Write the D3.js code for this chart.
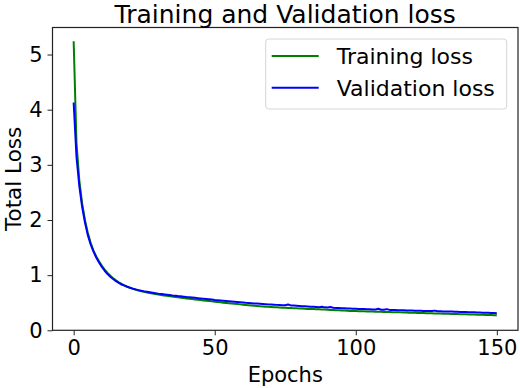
<!DOCTYPE html>
<html>
<head>
<meta charset="utf-8">
<script src="https://cdn.jsdelivr.net/npm/d3@7"></script>
<style>
    body { margin: 0; background: #fff; }
    text { font-family: "DejaVu Sans", sans-serif; fill: #000; }
    .tick line { stroke: #222; }
    .domain { display: none; }
</style>
</head>
<body>
<div id="chart"></div>
<script>
// Loss per epoch (epoch 0 .. 150)
const trainingLoss = [
    5.24, 3.40, 2.72, 2.30, 2.00, 1.77, 1.59, 1.45, 1.34, 1.25,
    1.17, 1.10, 1.04, 0.99, 0.945, 0.905, 0.87, 0.84, 0.815, 0.79,
    0.77, 0.752, 0.736, 0.722, 0.709, 0.697, 0.686, 0.676, 0.666, 0.657,
    0.649, 0.641, 0.633, 0.626, 0.619, 0.612, 0.605, 0.598, 0.592, 0.586,
    0.578, 0.572, 0.566, 0.560, 0.554, 0.548, 0.542, 0.537, 0.531, 0.525,
    0.519, 0.513, 0.507, 0.501, 0.495, 0.490, 0.485, 0.480, 0.475, 0.470,
    0.465, 0.460, 0.455, 0.450, 0.445, 0.441, 0.437, 0.433, 0.429, 0.425,
    0.422, 0.419, 0.416, 0.413, 0.410, 0.408, 0.406, 0.404, 0.402, 0.400,
    0.397, 0.394, 0.391, 0.388, 0.386, 0.384, 0.382, 0.380, 0.378, 0.375,
    0.372, 0.370, 0.367, 0.365, 0.362, 0.360, 0.357, 0.355, 0.352, 0.350,
    0.348, 0.347, 0.345, 0.344, 0.342, 0.341, 0.340, 0.338, 0.337, 0.335,
    0.334, 0.332, 0.331, 0.329, 0.328, 0.326, 0.325, 0.323, 0.322, 0.320,
    0.318, 0.317, 0.315, 0.314, 0.312, 0.311, 0.309, 0.308, 0.306, 0.305,
    0.303, 0.302, 0.300, 0.299, 0.297, 0.296, 0.294, 0.293, 0.291, 0.290,
    0.288, 0.287, 0.285, 0.284, 0.282, 0.281, 0.279, 0.278, 0.276, 0.275,
    0.274
];

const validationLoss = [
    4.13, 3.15, 2.62, 2.24, 1.96, 1.73, 1.56, 1.43, 1.32, 1.23,
    1.15, 1.08, 1.02, 0.97, 0.93, 0.89, 0.86, 0.83, 0.81, 0.79,
    0.772, 0.755, 0.742, 0.728, 0.716, 0.706, 0.697, 0.688, 0.680, 0.672,
    0.665, 0.660, 0.652, 0.646, 0.640, 0.633, 0.628, 0.621, 0.616, 0.610,
    0.604, 0.600, 0.594, 0.589, 0.583, 0.578, 0.574, 0.568, 0.563, 0.558,
    0.550, 0.545, 0.540, 0.536, 0.531, 0.527, 0.522, 0.518, 0.514, 0.509,
    0.505, 0.500, 0.497, 0.492, 0.488, 0.484, 0.481, 0.477, 0.474, 0.470,
    0.467, 0.464, 0.461, 0.458, 0.456, 0.454, 0.468, 0.451, 0.448, 0.446,
    0.441, 0.437, 0.434, 0.431, 0.428, 0.425, 0.422, 0.420, 0.428, 0.416,
    0.413, 0.422, 0.408, 0.406, 0.403, 0.401, 0.399, 0.397, 0.394, 0.392,
    0.390, 0.388, 0.386, 0.384, 0.382, 0.380, 0.378, 0.377, 0.390, 0.374,
    0.373, 0.384, 0.370, 0.368, 0.366, 0.365, 0.363, 0.362, 0.360, 0.359,
    0.357, 0.356, 0.354, 0.353, 0.352, 0.350, 0.349, 0.348, 0.357, 0.346,
    0.344, 0.343, 0.342, 0.340, 0.339, 0.337, 0.336, 0.334, 0.332, 0.331,
    0.329, 0.327, 0.326, 0.324, 0.322, 0.320, 0.318, 0.316, 0.314, 0.312,
    0.311
];

const xTicks = [0, 50, 100, 150];
const yTicks = [0, 1, 2, 3, 4, 5];

const series = [
    { name: "Training loss", values: trainingLoss, color: "green" },
    { name: "Validation loss", values: validationLoss, color: "blue" }
];

const W = 520, H = 388;
const margin = { top: 27.5, right: 2, bottom: 57.7, left: 52.5 };
const width = W - margin.left - margin.right;
const height = H - margin.top - margin.bottom;

const svg = d3.select("#chart").append("svg")
    .attr("width", W)
    .attr("height", H)
    .append("g")
    .attr("transform", `translate(${margin.left},${margin.top})`);

const xScale = d3.scaleLinear().domain([-7.5, 157.5]).range([0, width]);
const yScale = d3.scaleLinear().domain([0, 5.49]).range([height, 0]);

// Lines (training first, validation on top)
const line = d3.line()
    .x((d, i) => xScale(i))
    .y(d => yScale(d));

series.forEach(s => {
    svg.append("path")
        .datum(s.values)
        .attr("fill", "none")
        .attr("stroke", s.color)
        .attr("stroke-width", 2)
        .attr("stroke-linejoin", "round")
        .attr("d", line);
});

// Axes
svg.append("g")
    .attr("transform", `translate(0,${height})`)
    .call(d3.axisBottom(xScale).tickValues(xTicks).tickFormat(d3.format("d")).tickSize(5).tickPadding(5))
    .call(g => g.selectAll("text").style("font-size", "21px"));

svg.append("g")
    .call(d3.axisLeft(yScale).tickValues(yTicks).tickFormat(d3.format("d")).tickSize(5).tickPadding(5))
    .call(g => g.selectAll("text").style("font-size", "21px"));

// Frame
svg.append("rect")
    .attr("width", width)
    .attr("height", height)
    .attr("fill", "none")
    .attr("stroke", "#222")
    .attr("stroke-width", 1.2);

// Title and axis labels
svg.append("text")
    .attr("x", width / 2)
    .attr("y", -4.3)
    .attr("text-anchor", "middle")
    .style("font-size", "25px")
    .text("Training and Validation loss");

svg.append("text")
    .attr("x", width / 2)
    .attr("y", height + 52)
    .attr("text-anchor", "middle")
    .style("font-size", "21px")
    .text("Epochs");

svg.append("text")
    .attr("x", -height / 2)
    .attr("y", -margin.left + 20.5)
    .attr("text-anchor", "middle")
    .attr("transform", "rotate(-90)")
    .style("font-size", "21.5px")
    .text("Total Loss");

// Legend
const legend = svg.append("g")
    .attr("transform", `translate(${265.7 - margin.left},${39 - margin.top})`);

legend.append("rect")
    .attr("width", 241)
    .attr("height", 70)
    .attr("rx", 3)
    .attr("fill", "#fff")
    .attr("fill-opacity", 0.8)
    .attr("stroke", "#d6d6d6");

series.forEach((s, i) => {
    const y = 17 + i * 31.7;
    legend.append("line")
        .attr("x1", 6).attr("x2", 53)
        .attr("y1", y).attr("y2", y)
        .attr("stroke", s.color)
        .attr("stroke-width", 2);
    legend.append("text")
        .attr("x", 71)
        .attr("y", y + 8)
        .style("font-size", "22px")
        .text(s.name);
});
</script>
</body>
</html>
